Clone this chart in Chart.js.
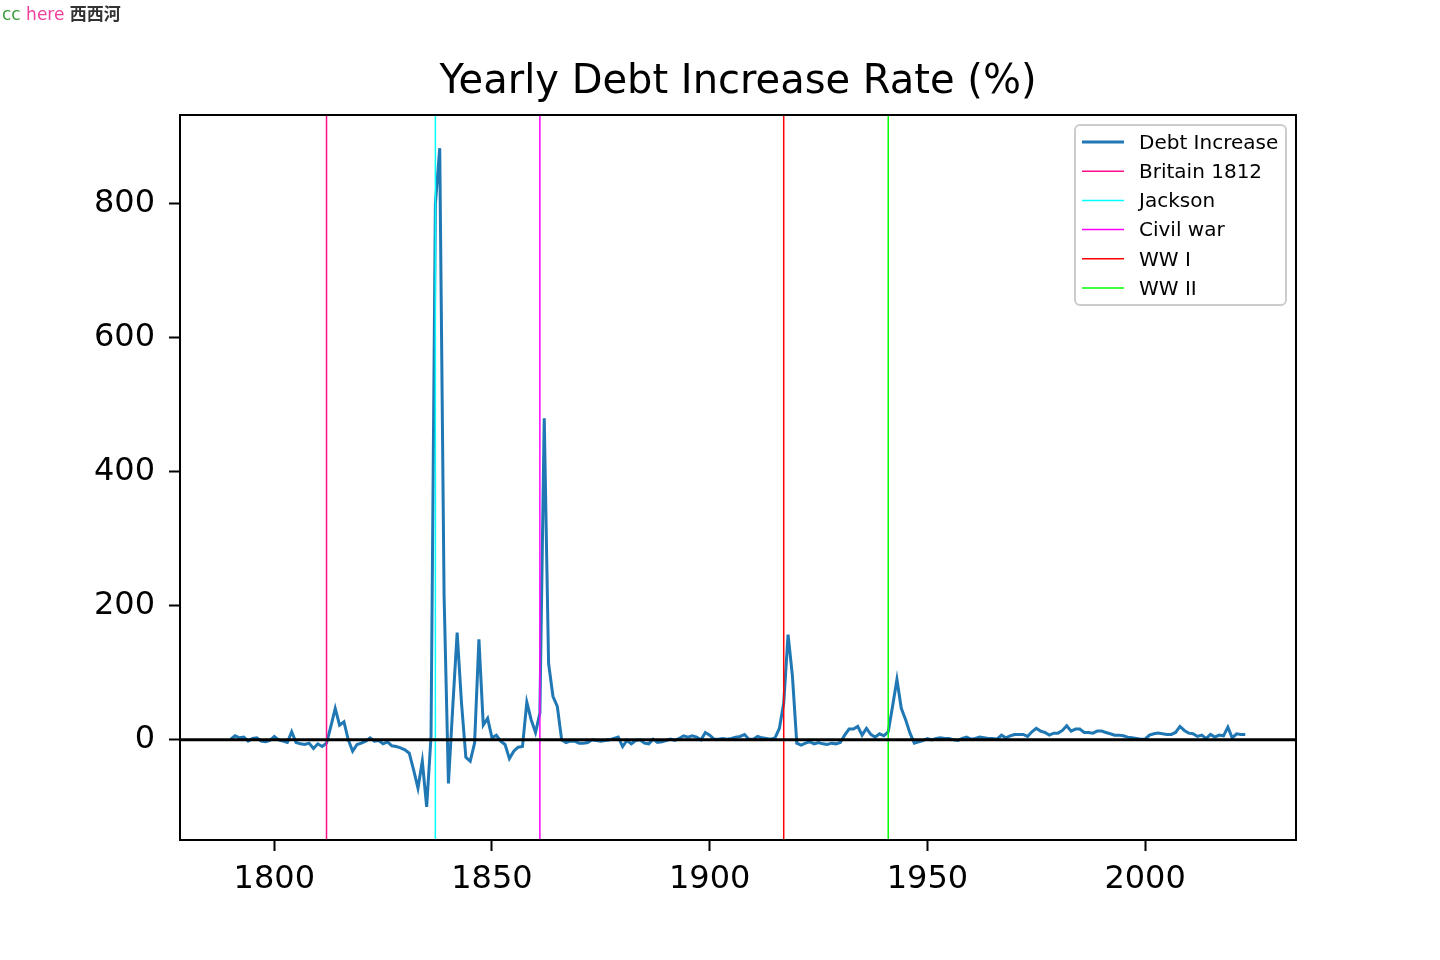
<!DOCTYPE html>
<html>
<head>
<meta charset="utf-8">
<title>Yearly Debt Increase Rate (%)</title>
<script src="https://cdn.jsdelivr.net/npm/chart.js@4.4.1/dist/chart.umd.min.js"></script>
<style>
    html, body { margin: 0; padding: 0; background: #fff; }
    #wrap { position: relative; width: 1440px; height: 960px; }
    #mark { position: absolute; left: 2px; top: 0px; font-family: "DejaVu Sans", "Noto Sans CJK SC", sans-serif; font-size: 17px; white-space: nowrap; }
    #mark .cc { color: #3c9a3c; }
    #mark .here { color: #f0409a; }
    #mark .xxh { color: #333; font-family: "Noto Sans CJK SC", sans-serif; font-size: 17px; font-weight: bold; }
</style>
</head>
<body>
<div id="wrap">
    <canvas id="debtChart" width="1440" height="960"></canvas>
    <div id="mark"><span class="cc">cc</span> <span class="here">here</span> <span class="xxh">西西河</span></div>
</div>
<script>
// first year of the series, one value per year after that
const startYear = 1790;

// yearly debt increase (%), 1790 .. 2023
const debtRate = [
    1, 6, 3, 4, -2, 2, 3, -2, -3, -1,            // 1790s
    5, 0, -2, -4, 12, -4, -6, -7, -5, -13,        // 1800s
    -6, -10, -5, 20, 47, 22, 27, 0, -17, -7,      // 1810s
    -5, -2, 3, -2, -1, -6, -3, -9, -10, -12,      // 1820s
    -15, -20, -45, -72, -32, -100, 5, 800, 883, 215, // 1830s
    -65, 50, 160, 55, -26, -32, -5, 150, 22, 32,  // 1840s
    3, 7, -2, -7, -28, -17, -11, -10, 56, 30,     // 1850s
    11, 40, 480, 114, 65, 50, 0, -4, -2, -2,      // 1860s
    -5, -5, -4, 0, -1, -2, -1, 0, 2, 4,           // 1870s
    -10, -1, -6, -1, 0, -5, -6, 1, -4, -3,        // 1880s
    -1, 1, -1, 2, 6, 4, 6, 4, 0, 11,              // 1890s
    7, 1, 1, 2, 1, 2, 4, 5, 8, 1,                 // 1900s
    1, 5, 3, 2, 1, 3, 17, 55, 157, 95,            // 1910s
    -5, -8, -5, -3, -6, -4, -6, -7, -5, -6,       // 1920s
    -4, 7, 16, 16, 20, 7, 17, 8, 4, 9,            // 1930s
    6, 12, 50, 90, 47, 30, 10, -5, -3, -1,        // 1940s
    2, 0, 2, 3, 2, 2, 0, -1, 2, 4,                // 1950s
    1, 2, 4, 3, 2, 2, 1, 7, 3, 6,                 // 1960s
    8, 8, 8, 5, 12, 17, 13, 11, 7, 10,            // 1970s
    10, 14, 21, 13, 16, 16, 11, 11, 10, 13,       // 1980s
    13, 11, 9, 7, 7, 6, 4, 3, 2, 1,               // 1990s
    1, 7, 9, 10, 9, 8, 8, 11, 20, 14,             // 2000s
    10, 9, 5, 7, 2, 8, 4, 7, 6, 19,               // 2010s
    3, 9, 8, 8                                    // 2020s
];

const eventLabels = ['Britain 1812', 'Jackson', 'Civil war', 'WW I', 'WW II'];
const eventYears = [1812, 1837, 1861, 1917, 1941];
const eventColors = ['#ff0d8a', '#00ffff', '#ff00ff', '#ff0000', '#00ff00'];

const xTicks = [1800, 1850, 1900, 1950, 2000];
const yTicks = [0, 200, 400, 600, 800];

const xMin = 1778.35, xMax = 2034.65;
const yMin = -149.5, yMax = 932.5;

const FONT = 'DejaVu Sans';

// box around the plot area, drawn over the lines like matplotlib spines
const frame = {
    id: 'frame',
    afterDatasetsDraw(chart) {
        const a = chart.chartArea;
        const c = chart.ctx;
        c.save();
        c.strokeStyle = '#000';
        c.lineWidth = 2;
        c.strokeRect(a.left, a.top, a.right - a.left, a.bottom - a.top);
        c.restore();
    }
};

// legend in the upper right corner of the plot, with a rounded grey frame
const legendBox = {
    id: 'legendBox',
    afterDraw(chart) {
        const c = chart.ctx;
        const a = chart.chartArea;
        const items = chart.data.datasets.filter(d => !d.hideInLegend);
        const w = 211, rowH = 29.2;
        const h = 180;
        const left = a.right - 10 - w;
        const top = a.top + 10;

        c.save();
        c.beginPath();
        c.roundRect(left, top, w, h, 5);
        c.fillStyle = 'rgba(255,255,255,0.8)';
        c.fill();
        c.strokeStyle = '#cccccc';
        c.lineWidth = 2;
        c.stroke();

        c.font = '20px "' + FONT + '"';
        c.textBaseline = 'middle';
        c.fillStyle = '#000';
        items.forEach((d, i) => {
            const y = top + 17 + i * rowH;
            c.beginPath();
            c.strokeStyle = d.borderColor;
            c.lineWidth = d.borderWidth;
            c.moveTo(left + 7, y);
            c.lineTo(left + 49, y);
            c.stroke();
            c.fillText(d.label, left + 64, y + 1.5);
        });
        c.restore();
    }
};

const datasets = [{
    label: 'Debt Increase',
    data: debtRate.map((v, i) => ({ x: startYear + i, y: v })),
    borderColor: '#1f77b4',
    borderWidth: 3,
    pointRadius: 0,
    tension: 0,
    order: 10
}];

eventLabels.forEach((label, i) => {
    datasets.push({
        label: label,
        data: [{ x: eventYears[i], y: yMin }, { x: eventYears[i], y: yMax }],
        borderColor: eventColors[i],
        borderWidth: 1.5,
        pointRadius: 0,
        order: 5
    });
});

// horizontal zero line
datasets.push({
    label: 'zero',
    hideInLegend: true,
    data: [{ x: xMin, y: 0 }, { x: xMax, y: 0 }],
    borderColor: '#000',
    borderWidth: 3,
    pointRadius: 0,
    order: 0
});

const ctx = document.getElementById('debtChart').getContext('2d');
new Chart(ctx, {
    type: 'line',
    data: { datasets: datasets },
    options: {
        responsive: false,
        animation: false,
        devicePixelRatio: 1,
        layout: { padding: { left: 0, right: 144, top: 0, bottom: 0 } },
        plugins: {
            legend: { display: false },
            tooltip: { enabled: false },
            title: {
                display: true,
                text: 'Yearly Debt Increase Rate (%)',
                color: '#000',
                fullSize: false,
                font: { family: FONT, size: 40, weight: 'normal', lineHeight: 1.2 },
                padding: { top: 59, bottom: 8 }
            }
        },
        scales: {
            x: {
                type: 'linear',
                min: xMin,
                max: xMax,
                afterBuildTicks: s => { s.ticks = xTicks.map(v => ({ value: v })); },
                afterFit: s => { s.height = 120; },
                border: { display: false },
                grid: { drawOnChartArea: false, tickLength: 11, tickWidth: 2, tickColor: '#000' },
                ticks: {
                    color: '#000',
                    autoSkip: false,
                    maxRotation: 0,
                    padding: 9,
                    font: { family: FONT, size: 32 },
                    callback: v => String(v)
                }
            },
            y: {
                type: 'linear',
                min: yMin,
                max: yMax,
                afterBuildTicks: s => { s.ticks = yTicks.map(v => ({ value: v })); },
                afterFit: s => { s.width = 180; },
                border: { display: false },
                grid: { drawOnChartArea: false, tickLength: 11, tickWidth: 2, tickColor: '#000' },
                ticks: {
                    color: '#000',
                    autoSkip: false,
                    padding: 14,
                    font: { family: FONT, size: 32 },
                    callback: v => String(v)
                }
            }
        }
    },
    plugins: [frame, legendBox]
});
</script>
</body>
</html>
